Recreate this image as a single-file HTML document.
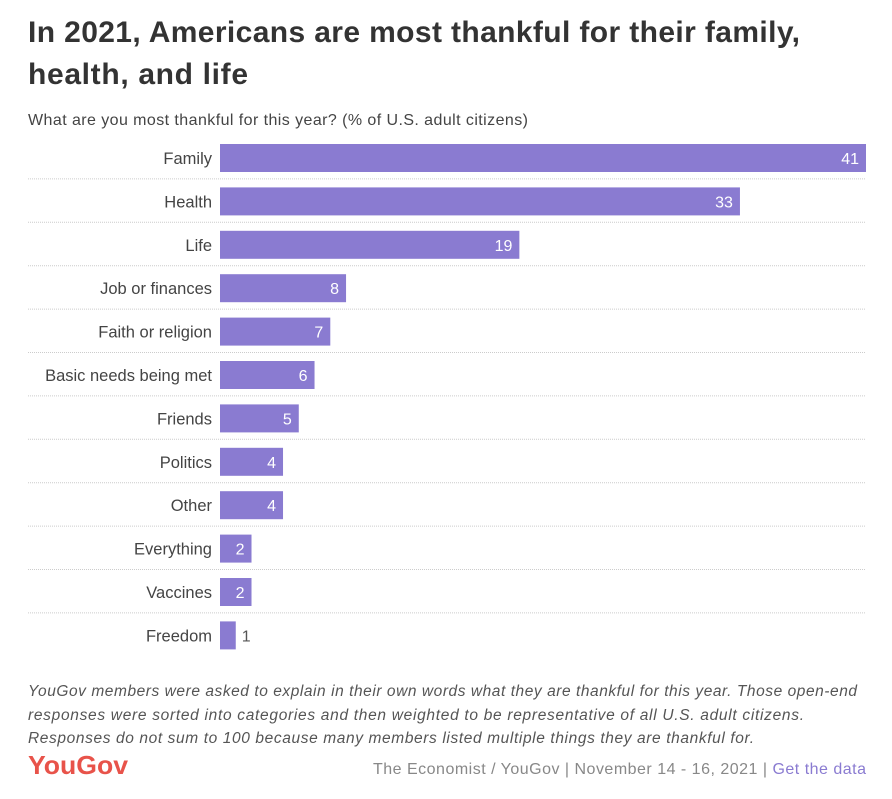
<!DOCTYPE html>
<html><head><meta charset="utf-8"><style>
body{margin:0;background:#fff;width:892px;height:799px;overflow:hidden;font-family:"Liberation Sans",sans-serif}
</style></head><body>
<svg width="892" height="799" style="display:block">
<text x="28" y="42" font-size="30" font-weight="bold" fill="#333" textLength="772" lengthAdjust="spacing">In 2021, Americans are most thankful for their family,</text>
<text x="28" y="84" font-size="30" font-weight="bold" fill="#333" textLength="220" lengthAdjust="spacing">health, and life</text>
<text x="28" y="125" font-size="16" fill="#444" textLength="500" lengthAdjust="spacing">What are you most thankful for this year? (% of U.S. adult citizens)</text>
<g id="bars"></g>
<g font-size="15.5" font-style="italic" fill="#555">
<text x="28" y="696" textLength="829" lengthAdjust="spacing">YouGov members were asked to explain in their own words what they are thankful for this year. Those open-end</text>
<text x="28" y="720" textLength="776" lengthAdjust="spacing">responses were sorted into categories and then weighted to be representative of all U.S. adult citizens.</text>
<text x="28" y="743" textLength="726" lengthAdjust="spacing">Responses do not sum to 100 because many members listed multiple things they are thankful for.</text>
</g>
<text x="28" y="774" font-size="26" font-weight="bold" fill="#e8534a" textLength="100" lengthAdjust="spacingAndGlyphs">YouGov</text>
<text x="373" y="774" font-size="16" fill="#888" textLength="493" lengthAdjust="spacing">The Economist / YouGov | November 14 - 16, 2021 | <tspan fill="#8a7bd1">Get the data</tspan></text>
</svg>
<script>
const categories=["Family","Health","Life","Job or finances","Faith or religion","Basic needs being met","Friends","Politics","Other","Everything","Vaccines","Freedom"];
const values=[41,33,19,8,7,6,5,4,4,2,2,1];
const maxValue=41;
const x0=220,x1=866,top0=144,pitch=43.4,bh=28;
const xs=v=>x0+(x1-x0)*v/maxValue;
const ys=i=>top0+i*pitch;
const g=document.getElementById('bars');
const NS="http://www.w3.org/2000/svg";
categories.forEach((c,i)=>{
  const y=ys(i);
  if(i>0){const l=document.createElementNS(NS,'line');
    l.setAttribute('x1',28);l.setAttribute('x2',866);l.setAttribute('y1',y-8.5);l.setAttribute('y2',y-8.5);
    l.setAttribute('stroke','#ccc');l.setAttribute('stroke-dasharray','1,1');
    
    
    g.appendChild(l);}
  const t=document.createElementNS(NS,'text');
  t.setAttribute('x',212);t.setAttribute('y',y+20);t.setAttribute('text-anchor','end');
  t.setAttribute('font-size','16.5');t.setAttribute('fill','#444');t.textContent=c;
  
  
  g.appendChild(t);
  const r=document.createElementNS(NS,'rect');
  r.setAttribute('x',x0);r.setAttribute('y',y);r.setAttribute('width',xs(values[i])-x0);r.setAttribute('height',bh);
  r.setAttribute('fill','#8a7bd1');
  
  
  g.appendChild(r);
  const v=document.createElementNS(NS,'text');
  const inside=values[i]>=2;
  v.setAttribute('x',inside?xs(values[i])-7:xs(values[i])+6);
  v.setAttribute('y',y+20);v.setAttribute('text-anchor',inside?'end':'start');
  v.setAttribute('font-size','16');v.setAttribute('fill',inside?'#fff':'#555');
  v.textContent=values[i];
  
  
  g.appendChild(v);
});
</script>
</body></html>
